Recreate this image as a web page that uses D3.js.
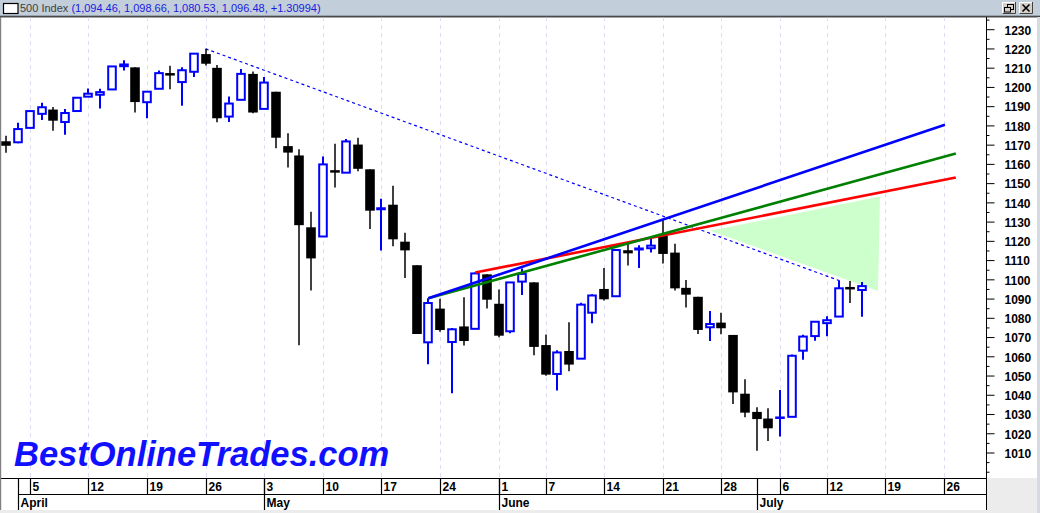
<!DOCTYPE html>
<html><head><meta charset="utf-8">
<script src="https://cdn.jsdelivr.net/npm/d3@7"></script>
<style>
html,body{margin:0;padding:0;background:#fff;overflow:hidden}
svg{display:block}
</style></head><body>
<svg id="c" width="1040" height="513"></svg>
<script>
// ---------- DATA ----------
const dates = ["2010-03-31","2010-04-01","2010-04-05","2010-04-06","2010-04-07","2010-04-08","2010-04-09",
"2010-04-12","2010-04-13","2010-04-14","2010-04-15","2010-04-16","2010-04-19","2010-04-20","2010-04-21","2010-04-22","2010-04-23",
"2010-04-26","2010-04-27","2010-04-28","2010-04-29","2010-04-30","2010-05-03","2010-05-04","2010-05-05","2010-05-06","2010-05-07",
"2010-05-10","2010-05-11","2010-05-12","2010-05-13","2010-05-14","2010-05-17","2010-05-18","2010-05-19","2010-05-20","2010-05-21",
"2010-05-24","2010-05-25","2010-05-26","2010-05-27","2010-05-28","2010-06-01","2010-06-02","2010-06-03","2010-06-04",
"2010-06-07","2010-06-08","2010-06-09","2010-06-10","2010-06-11","2010-06-14","2010-06-15","2010-06-16","2010-06-17","2010-06-18",
"2010-06-21","2010-06-22","2010-06-23","2010-06-24","2010-06-25","2010-06-28","2010-06-29","2010-06-30","2010-07-01","2010-07-02",
"2010-07-06","2010-07-07","2010-07-08","2010-07-09","2010-07-12","2010-07-13","2010-07-14","2010-07-15"];
const futureDates = ["2010-07-16","2010-07-19","2010-07-20","2010-07-21","2010-07-22","2010-07-23",
"2010-07-26","2010-07-27","2010-07-28","2010-07-29","2010-07-30"];
const prevClose = 1173.27;
const open = [1171.75,1171.23,1178.71,1186.01,1188.23,1181.75,1187.47,1194.94,1195.94,1198.69,1210.77,1210.17,1192.06,1199.04,1207.16,1202.52,1207.87,1217.07,1209.92,1184.59,1193.30,1206.77,1188.58,1197.50,1169.24,1164.38,1127.04,1122.27,1156.39,1155.43,1170.04,1157.19,1136.52,1138.78,1119.57,1107.34,1067.26,1084.78,1067.42,1075.51,1074.27,1102.59,1087.30,1073.01,1098.82,1098.43,1065.84,1050.81,1062.75,1058.77,1082.65,1095.00,1091.21,1114.02,1115.98,1116.16,1122.79,1113.90,1095.57,1090.93,1075.10,1077.50,1071.10,1040.56,1031.10,1027.65,1028.09,1028.54,1062.92,1070.50,1077.23,1080.65,1095.61,1094.46];
const high = [1174.56,1181.43,1187.73,1191.80,1189.60,1188.55,1194.66,1199.20,1199.04,1210.65,1213.92,1210.17,1197.87,1208.58,1210.99,1210.27,1217.28,1219.80,1211.38,1195.05,1209.36,1207.99,1205.13,1197.50,1175.95,1167.58,1135.13,1163.85,1170.48,1172.87,1173.57,1157.19,1141.88,1148.66,1124.27,1107.34,1090.16,1089.95,1074.75,1090.75,1103.52,1102.59,1094.77,1098.56,1105.67,1098.43,1071.36,1063.15,1077.74,1087.85,1092.25,1105.91,1115.59,1118.74,1117.72,1121.01,1131.23,1118.50,1099.64,1090.93,1083.56,1082.60,1071.10,1048.08,1033.58,1032.95,1042.50,1060.89,1071.25,1078.16,1080.78,1099.46,1099.08,1098.66];
const low = [1165.77,1170.69,1178.71,1182.77,1177.25,1175.12,1187.15,1194.71,1188.82,1198.69,1208.50,1186.77,1183.68,1199.04,1198.85,1190.19,1205.10,1211.07,1181.62,1181.81,1193.30,1186.32,1188.58,1168.12,1158.15,1065.79,1094.15,1122.27,1147.71,1155.43,1156.14,1126.14,1114.96,1117.20,1100.66,1071.58,1055.90,1072.70,1040.78,1065.59,1074.27,1084.78,1069.89,1072.03,1091.81,1060.50,1049.86,1042.17,1052.25,1058.77,1077.12,1089.03,1091.21,1107.13,1105.87,1113.93,1108.24,1094.18,1085.31,1071.60,1067.89,1071.45,1035.18,1028.33,1010.91,1015.93,1018.35,1028.54,1058.24,1068.10,1070.45,1080.65,1087.68,1080.53];
const close = [1169.43,1178.10,1187.44,1189.44,1182.45,1186.44,1194.37,1196.48,1197.30,1210.65,1211.67,1192.13,1197.52,1207.17,1205.94,1208.67,1217.28,1212.05,1183.71,1191.36,1206.78,1186.69,1202.26,1173.60,1165.87,1128.15,1110.88,1159.73,1155.79,1171.67,1157.44,1135.68,1136.94,1120.80,1115.05,1071.59,1087.69,1073.65,1074.03,1067.95,1103.06,1089.41,1070.71,1098.38,1102.83,1064.88,1050.47,1062.00,1055.69,1086.84,1091.60,1089.63,1115.23,1114.61,1116.04,1117.51,1113.20,1095.31,1092.04,1073.69,1076.76,1074.57,1041.24,1030.71,1027.37,1022.58,1028.06,1060.27,1070.25,1077.96,1078.75,1095.34,1095.17,1096.48];
const yTicksMajor = [1010,1020,1030,1040,1050,1060,1070,1080,1090,1100,1110,1120,1130,1140,1150,1160,1170,1180,1190,1200,1210,1220,1230];
const monthNames = ["January","February","March","April","May","June","July","August"];
// annotation lines: [tradingDayIndex, price]
const dottedTrend = [[17,1219.80],[71,1099.46]];
const blueTrend  = [[36,1090.16],[80.07,1180.3]];
const greenTrend = [[36,1090.16],[81,1165.4]];
const redTrend   = [[40,1103.52],[81,1152.9]];
const shadeZone  = [[60.05,1125.2],[74.53,1143.0],[74.36,1094.0]];
const titleName = "500 Index";
const titleValues = "(1,094.46, 1,098.66, 1,080.53, 1,096.48, +1.30994)";
const watermark = "BestOnlineTrades.com";

// ---------- LAYOUT ----------
const svg = d3.select("#c");
const W = 1040, H = 513, plotTop = 17, plotBottom = 478, axisX = 987;
const x = d3.scaleLinear().domain([0, 80]).range([6.4, 944.1]);
const y = d3.scaleLinear().domain([1010, 1230]).range([452.5, 29.2]);
const FONT = "'Liberation Sans', Arial, sans-serif";

svg.append("rect").attr("width", W).attr("height", H).attr("fill", "#fff");

// header
svg.append("rect").attr("x",0).attr("y",0).attr("width",W).attr("height",15).attr("fill","#c2ceda");
svg.append("rect").attr("x",0).attr("y",15).attr("width",W).attr("height",1).attr("fill","#9aa4ae");
svg.append("rect").attr("x",0).attr("y",16).attr("width",W).attr("height",1.5).attr("fill","#4a4a4a");
svg.append("rect").attr("x",3.5).attr("y",3.5).attr("width",14.5).attr("height",10)
  .attr("fill","#fff").attr("stroke","#000").attr("stroke-width",1.2);
const ht = svg.append("text").attr("x",20).attr("y",12).attr("font-family",FONT).attr("font-size",11);
ht.append("tspan").attr("fill","#404040").text(titleName + " ");
ht.append("tspan").attr("fill","#1a1ae0").text(titleValues);
// window buttons
function btn(x0){
  const g = svg.append("g");
  g.append("rect").attr("x",x0).attr("y",2).attr("width",14).attr("height",12).attr("fill","#d4d0c8");
  g.append("path").attr("d",`M${x0+0.5},${14}V${2.5}H${x0+14}`).attr("stroke","#fff").attr("fill","none");
  g.append("path").attr("d",`M${x0+0.5},${13.5}H${x0+13.5}V${2}`).attr("stroke","#404040").attr("fill","none");
  return g;
}
const b1 = btn(1002);
b1.append("rect").attr("x",1007.5).attr("y",4.5).attr("width",6).attr("height",5).attr("fill","none").attr("stroke","#000");
b1.append("rect").attr("x",1004.5).attr("y",7.5).attr("width",6).attr("height",4.5).attr("fill","#d4d0c8").attr("stroke","#000");
const b2 = btn(1019);
b2.append("path").attr("d","M1022.5,4.5L1029.5,11.5M1029.5,4.5L1022.5,11.5").attr("stroke","#000").attr("stroke-width",1.6);

// clip
svg.append("clipPath").attr("id","clip").append("rect")
  .attr("x",1).attr("y",plotTop+0.5).attr("width",axisX-1).attr("height",plotBottom-plotTop-0.5);
const plot = svg.append("g").attr("clip-path","url(#clip)");

// axis dates
const parse = d3.timeParse("%Y-%m-%d");
const ad = dates.concat(futureDates).map(parse);
const weekStarts = [], monthStarts = [];
ad.forEach((d,i)=>{
  if(i===0) return;
  const p = ad[i-1];
  if(+d3.timeMonday.floor(d) !== +d3.timeMonday.floor(p)) weekStarts.push(i);
  if(d.getMonth() !== p.getMonth()) monthStarts.push(i);
});
const gx = i => Math.round(x(i)) + 0.5;

// grid
plot.selectAll("line.grid").data(weekStarts).enter().append("line")
  .attr("x1",gx).attr("x2",gx).attr("y1",plotTop).attr("y2",plotBottom)
  .attr("stroke","#dcdcf2").attr("stroke-width",1).attr("stroke-dasharray","4,4");

// shaded zone
plot.append("path").datum(shadeZone)
  .attr("d", d3.line().x(d=>x(d[0])).y(d=>y(d[1])).curve(d3.curveLinearClosed))
  .attr("fill","#ccffcc");

// dotted trend
plot.append("path").datum(dottedTrend)
  .attr("d", d3.line().x(d=>x(d[0])).y(d=>y(d[1])))
  .attr("stroke","#0000ff").attr("stroke-width",1.2).attr("stroke-dasharray","3,3").attr("fill","none");

// candles
const candles = dates.map((d,i)=>({i, o:open[i], h:high[i], l:low[i], c:close[i], pc: i===0?prevClose:close[i-1]}));
const bw = 9.6;
const cg = plot.selectAll("g.candle").data(candles).enter().append("g");
cg.each(function(d){
  const g = d3.select(this);
  const cx = Math.round(x(d.i));
  const col = d.c < d.pc ? "#000" : "#0000ff";
  g.append("line").attr("x1",cx).attr("x2",cx).attr("y1",y(d.h)).attr("y2",y(d.l))
    .attr("stroke",col).attr("stroke-width", col==="#000"?1.5:2);
  if(d.c >= d.o){
    const yt = y(d.c), yb = y(d.o);
    g.append("rect").attr("x",cx-bw/2+1).attr("width",bw-2)
      .attr("y",yt).attr("height",Math.max(yb-yt,1))
      .attr("fill","#fff").attr("stroke",col).attr("stroke-width",2);
  } else {
    const yt = y(d.o), yb = y(d.c);
    const hgt = Math.max(yb-yt,2.5);
    g.append("rect").attr("x",cx-bw/2).attr("width",bw)
      .attr("y",(yt+yb)/2-hgt/2).attr("height",hgt).attr("fill",col);
  }
});

// trend lines
const tl = d3.line().x(d=>x(d[0])).y(d=>y(d[1]));
[[redTrend,"#ff0000"],[greenTrend,"#008000"],[blueTrend,"#0000ff"]].forEach(([data,c])=>{
  plot.append("path").datum(data).attr("d",tl).attr("stroke",c).attr("stroke-width",2.6).attr("fill","none");
});

// watermark
svg.append("text").attr("x",14).attr("y",466).attr("font-family",FONT)
  .attr("font-size",34.5).attr("font-weight","bold").attr("font-style","italic")
  .attr("fill","#1010ff").text(watermark);

// y axis
svg.append("line").attr("x1",axisX-0.5).attr("x2",axisX-0.5).attr("y1",plotTop).attr("y2",plotBottom)
  .attr("stroke","#000");
const minorTicks = d3.range(1000, 1236, 5).filter(v => v % 10 !== 0);
const yAxisMajor = d3.axisRight(y).tickValues(yTicksMajor).tickFormat(d3.format("d"))
  .tickSize(8).tickPadding(10).tickSizeOuter(0);
const gy = svg.append("g").attr("transform",`translate(${axisX-0.5},0)`).call(yAxisMajor);
gy.select(".domain").remove();
gy.selectAll("text").attr("font-family",FONT).attr("font-size",12).attr("font-weight","bold")
  .attr("fill","#000").attr("dy","0.4em");
gy.selectAll("line").attr("stroke","#000");
const gy2 = svg.append("g").attr("transform",`translate(${axisX-0.5},0)`)
  .call(d3.axisRight(y).tickValues(minorTicks.concat([1000])).tickSize(3).tickFormat("").tickSizeOuter(0));
gy2.select(".domain").remove();
gy2.selectAll("line").attr("stroke","#000");

// date axis
svg.append("rect").attr("x",axisX).attr("y",plotBottom).attr("width",W-axisX).attr("height",H-plotBottom).attr("fill","#ececec");
svg.append("rect").attr("x",0).attr("y",510).attr("width",W).attr("height",3).attr("fill","#ececec");
svg.append("line").attr("x1",0).attr("x2",axisX).attr("y1",plotBottom+0.5).attr("y2",plotBottom+0.5).attr("stroke","#000").attr("stroke-width",1.2);
svg.append("line").attr("x1",gx(monthStarts[0])).attr("x2",axisX).attr("y1",494.5).attr("y2",494.5).attr("stroke","#000").attr("stroke-width",1.2);
svg.selectAll("line.wk").data(weekStarts).enter().append("line")
  .attr("x1",gx).attr("x2",gx).attr("y1",plotBottom).attr("y2",494.5).attr("stroke","#000").attr("stroke-width",1.2);
svg.selectAll("line.mo").data(monthStarts).enter().append("line")
  .attr("x1",gx).attr("x2",gx).attr("y1",plotBottom).attr("y2",510).attr("stroke","#000").attr("stroke-width",1.2);
svg.append("line").attr("x1",axisX-0.5).attr("x2",axisX-0.5).attr("y1",plotBottom).attr("y2",510).attr("stroke","#000");
svg.selectAll("text.wk").data(weekStarts).enter().append("text")
  .attr("x",i=>gx(i)+2).attr("y",491).attr("font-family",FONT).attr("font-size",12).attr("font-weight","bold")
  .attr("fill","#000").text(i=>ad[i].getDate());
svg.selectAll("text.mo").data(monthStarts).enter().append("text")
  .attr("x",i=>gx(i)+2).attr("y",507).attr("font-family",FONT).attr("font-size",12).attr("font-weight","bold")
  .attr("fill","#000").text(i=>monthNames[ad[i].getMonth()]);

// frame borders
svg.append("rect").attr("x",0).attr("y",17).attr("width",1.2).attr("height",493).attr("fill","#808080");
svg.append("rect").attr("x",1037).attr("y",17).attr("width",3).attr("height",H-17).attr("fill","#d6dbe2");
</script>
</body></html>
